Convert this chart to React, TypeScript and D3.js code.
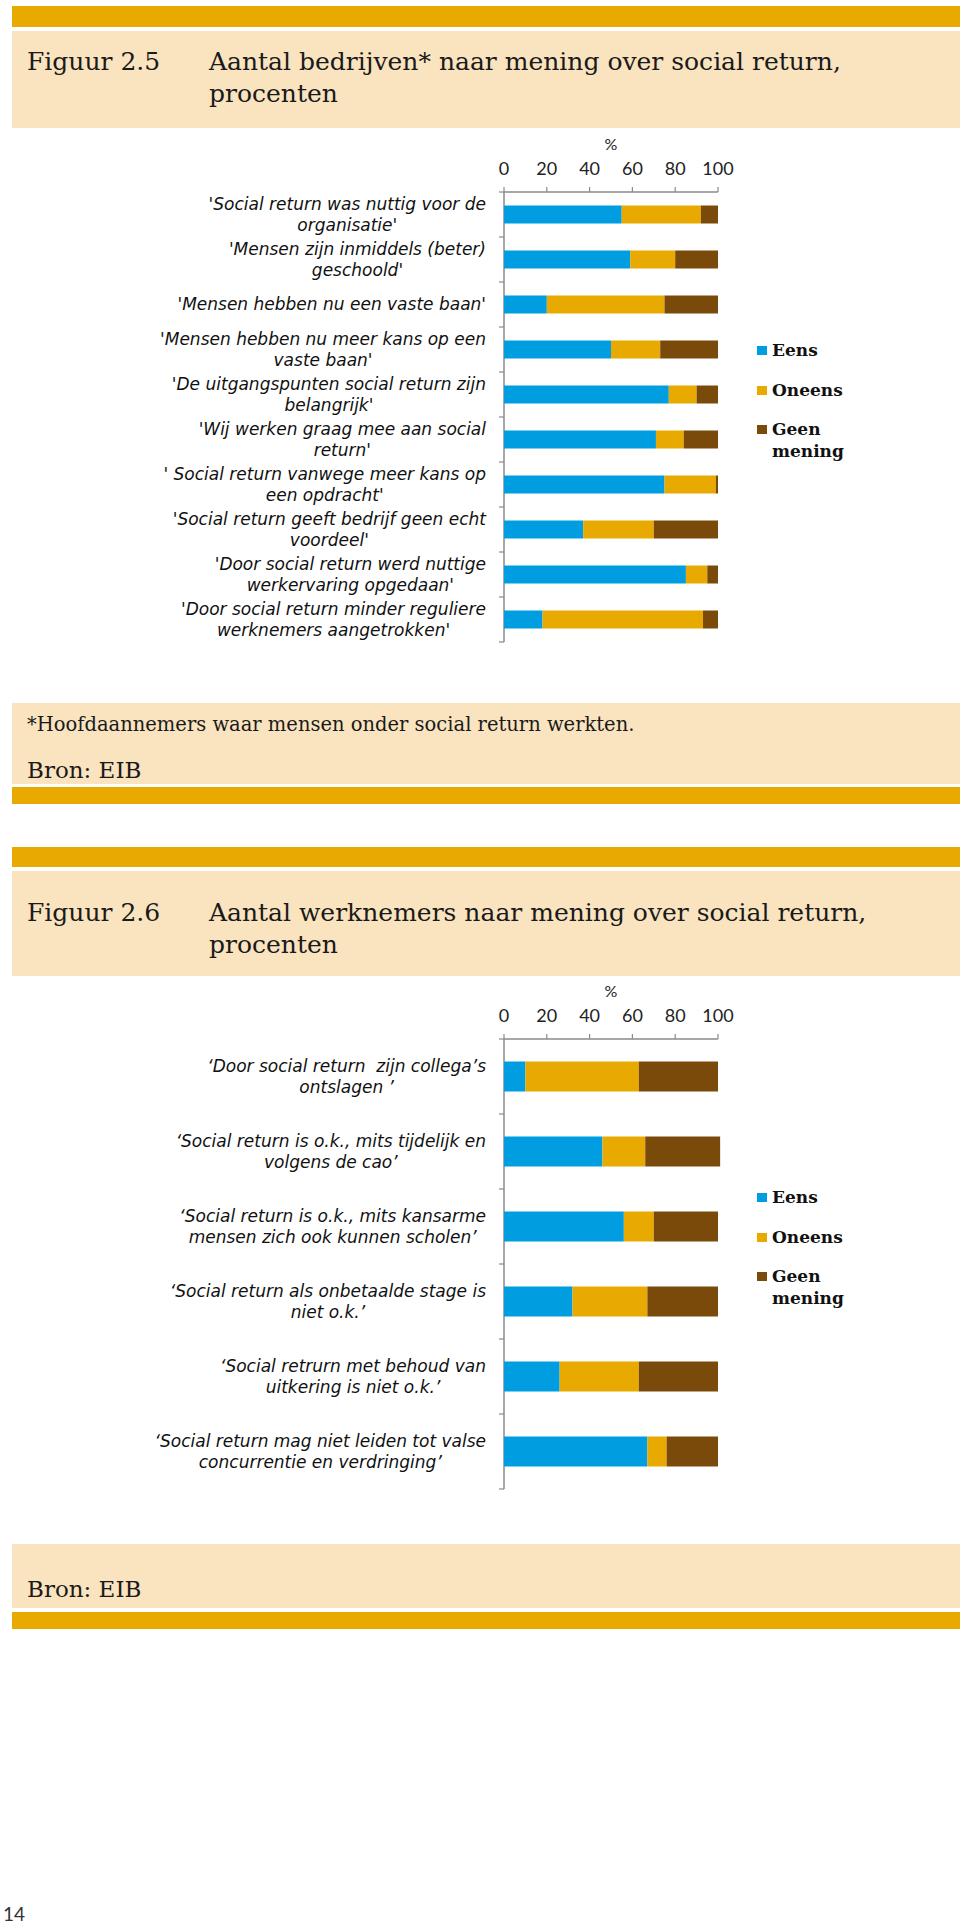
import React, { useEffect, useRef } from "react";
import * as d3 from "d3";

// ---------- DATA ----------
const chart1Labels: string[][] = [
  ["'Social return was nuttig voor de", "organisatie'"],
  ["'Mensen zijn inmiddels (beter)", "geschoold'"],
  ["'Mensen hebben nu een vaste baan'"],
  ["'Mensen hebben nu meer kans op een", "vaste baan'"],
  ["'De uitgangspunten social return zijn", "belangrijk'"],
  ["'Wij werken graag mee aan social", "return'"],
  ["' Social return vanwege meer kans op", "een opdracht'"],
  ["'Social return geeft bedrijf geen echt", "voordeel'"],
  ["'Door social return werd nuttige", "werkervaring opgedaan'"],
  ["'Door social return minder reguliere", "werknemers aangetrokken'"],
];
const chart1Eens = [55, 59, 20, 50, 77, 71, 75, 37, 85, 18];
const chart1Oneens = [37, 21, 55, 23, 13, 13, 24, 33, 10, 75];
const chart1Geen = [8, 20, 25, 27, 10, 16, 1, 30, 5, 7];

const chart2Labels: string[][] = [
  ["\u2018Door social return  zijn collega\u2019s", "ontslagen \u2019"],
  ["\u2018Social return is o.k., mits tijdelijk en", "volgens de cao\u2019"],
  ["\u2018Social return is o.k., mits kansarme", "mensen zich ook kunnen scholen\u2019"],
  ["\u2018Social return als onbetaalde stage is", "niet o.k.\u2019"],
  ["\u2018Social retrurn met behoud van", "uitkering is niet o.k.\u2019"],
  ["\u2018Social return mag niet leiden tot valse", "concurrentie en verdringing\u2019"],
];
const chart2Eens = [10, 46, 56, 32, 26, 67];
const chart2Oneens = [53, 20, 14, 35, 37, 9];
const chart2Geen = [37, 35, 30, 33, 37, 24];

const seriesNames = ["Eens", "Oneens", "Geen mening"];
const xTicks = [0, 20, 40, 60, 80, 100];

const BLUE = "#009ee0";
const GOLD = "#e8a900";
const BROWN = "#7a4a0a";
const CREAM = "#fae4bf";
const AXIS = "#8a8a8a";
const colors = [BLUE, GOLD, BROWN];

const LABEL_FONT = "'DejaVu Sans', sans-serif";
const SERIF = "'DejaVu Serif', serif";

function drawChart(
  svg: d3.Selection<SVGSVGElement, unknown, null, undefined>,
  top: number,
  labels: string[][],
  eens: number[],
  oneens: number[],
  geen: number[]
) {
  const x = d3.scaleLinear().domain([0, 100]).range([504, 718]);
  const y = d3
    .scaleBand<number>()
    .domain(d3.range(labels.length))
    .range([top, top + 450])
    .paddingInner(0.6)
    .paddingOuter(0.3);
  const step = y.step();
  const g = svg.append("g");

  g.append("text")
    .attr("x", x(50))
    .attr("y", top - 42)
    .attr("text-anchor", "middle")
    .attr("font-family", "Lato, sans-serif")
    .attr("font-size", 16)
    .attr("fill", "#222")
    .text("%");

  g.selectAll("text.tick")
    .data(xTicks)
    .enter()
    .append("text")
    .attr("x", (d) => x(d))
    .attr("y", top - 17)
    .attr("text-anchor", "middle")
    .attr("font-family", "Lato, sans-serif")
    .attr("font-size", 18)
    .attr("fill", "#222")
    .text((d) => String(d));

  g.append("line")
    .attr("x1", x(0))
    .attr("x2", x(100))
    .attr("y1", top)
    .attr("y2", top)
    .attr("stroke", AXIS)
    .attr("stroke-width", 1.5);
  g.selectAll("line.xt")
    .data(xTicks)
    .enter()
    .append("line")
    .attr("x1", (d) => x(d))
    .attr("x2", (d) => x(d))
    .attr("y1", top - 5)
    .attr("y2", top)
    .attr("stroke", AXIS)
    .attr("stroke-width", 1.2);

  g.append("line")
    .attr("x1", x(0))
    .attr("x2", x(0))
    .attr("y1", top)
    .attr("y2", top + 450)
    .attr("stroke", AXIS)
    .attr("stroke-width", 1.5);
  g.selectAll("line.yt")
    .data(d3.range(labels.length + 1))
    .enter()
    .append("line")
    .attr("x1", x(0) - 5)
    .attr("x2", x(0))
    .attr("y1", (i) => top + i * step)
    .attr("y2", (i) => top + i * step)
    .attr("stroke", AXIS)
    .attr("stroke-width", 1.2);

  const rows = labels.map((_, i) => ({ i, v: [eens[i], oneens[i], geen[i]] }));
  const stack = d3.stack<any>().keys(["0", "1", "2"]).value((d, k) => d.v[+k]);
  const series = stack(rows);
  series.forEach((s, si) => {
    g.append("g")
      .selectAll("rect")
      .data(s)
      .enter()
      .append("rect")
      .attr("x", (d) => x(d[0]))
      .attr("width", (d) => Math.max(0, x(d[1]) - x(d[0])))
      .attr("y", (d) => y((d.data as any).i)!)
      .attr("height", y.bandwidth())
      .attr("fill", colors[si]);
  });

  labels.forEach((lines, i) => {
    const cy = y(i)! + y.bandwidth() / 2;
    const lg = g.append("g");
    const texts = lines.map((ln, li) =>
      lg
        .append("text")
        .attr("y", cy + (li - (lines.length - 1) / 2) * 21)
        .attr("dy", "0.35em")
        .attr("font-family", LABEL_FONT)
        .attr("font-style", "italic")
        .attr("font-size", 17)
        .attr("fill", "#111")
        .style("white-space", "pre")
        .text(ln)
    );
    const widths = texts.map((t) => (t.node() as SVGTextElement).getComputedTextLength());
    const W = Math.max(...widths);
    texts.forEach((t) => t.attr("x", 486 - W / 2).attr("text-anchor", "middle"));
  });

  const legY = [top + 154, top + 194, top + 233];
  seriesNames.forEach((name, si) => {
    g.append("rect")
      .attr("x", 757)
      .attr("y", legY[si])
      .attr("width", 10)
      .attr("height", 9)
      .attr("fill", colors[si]);
    const words = si === 2 ? ["Geen", "mening"] : [name];
    words.forEach((w, wi) => {
      g.append("text")
        .attr("x", 772)
        .attr("y", legY[si] + 10 + wi * 22)
        .attr("font-family", SERIF)
        .attr("font-weight", "bold")
        .attr("font-size", 17)
        .attr("fill", "#111")
        .text(w);
    });
  });
}

function Header(
  svg: d3.Selection<SVGSVGElement, unknown, null, undefined>,
  goldTop: number,
  creamTop: number,
  creamBottom: number,
  baseline: number,
  num: string,
  title: string
) {
  svg.append("rect").attr("x", 12).attr("y", goldTop).attr("width", 948).attr("height", creamTop - goldTop - 4).attr("fill", GOLD);
  svg.append("rect").attr("x", 12).attr("y", creamTop).attr("width", 948).attr("height", creamBottom - creamTop).attr("fill", CREAM);
  const t = (x: number, yy: number, s: string) =>
    svg.append("text").attr("x", x).attr("y", yy).attr("font-family", SERIF).attr("font-size", 25).attr("fill", "#1a1a1a").text(s);
  t(27, baseline, num);
  t(209, baseline, title);
  t(209, baseline + 32, "procenten");
}

export default function App() {
  const ref = useRef<SVGSVGElement>(null);
  useEffect(() => {
    const svg = d3.select(ref.current!);
    svg.selectAll("*").remove();
    svg.append("rect").attr("width", 960).attr("height", 1925).attr("fill", "#fff");

    Header(svg, 6, 31, 128, 70, "Figuur 2.5", "Aantal bedrijven* naar mening over social return,");
    drawChart(svg, 192, chart1Labels, chart1Eens, chart1Oneens, chart1Geen);

    svg.append("rect").attr("x", 12).attr("y", 703).attr("width", 948).attr("height", 81).attr("fill", CREAM);
    svg.append("rect").attr("x", 12).attr("y", 787).attr("width", 948).attr("height", 17).attr("fill", GOLD);
    svg.append("text").attr("x", 27).attr("y", 731).attr("font-family", SERIF).attr("font-size", 19.5).attr("fill", "#1a1a1a")
      .text("*Hoofdaannemers waar mensen onder social return werkten.");
    svg.append("text").attr("x", 27).attr("y", 778).attr("font-family", SERIF).attr("font-size", 23).attr("fill", "#1a1a1a")
      .text("Bron: EIB");

    Header(svg, 847, 871, 976, 921, "Figuur 2.6", "Aantal werknemers naar mening over social return,");
    drawChart(svg, 1039, chart2Labels, chart2Eens, chart2Oneens, chart2Geen);

    svg.append("rect").attr("x", 12).attr("y", 1544).attr("width", 948).attr("height", 64).attr("fill", CREAM);
    svg.append("rect").attr("x", 12).attr("y", 1612).attr("width", 948).attr("height", 17).attr("fill", GOLD);
    svg.append("text").attr("x", 27).attr("y", 1597).attr("font-family", SERIF).attr("font-size", 23).attr("fill", "#1a1a1a")
      .text("Bron: EIB");

    svg.append("text").attr("x", 3).attr("y", 1921).attr("font-family", "Lato, sans-serif").attr("font-size", 19).attr("fill", "#333")
      .text("14");
  }, []);
  return (
    <div style={{ position: "absolute", left: 0, top: 0 }}>
      <svg ref={ref} width={960} height={1925} style={{ display: "block" }} />
    </div>
  );
}
